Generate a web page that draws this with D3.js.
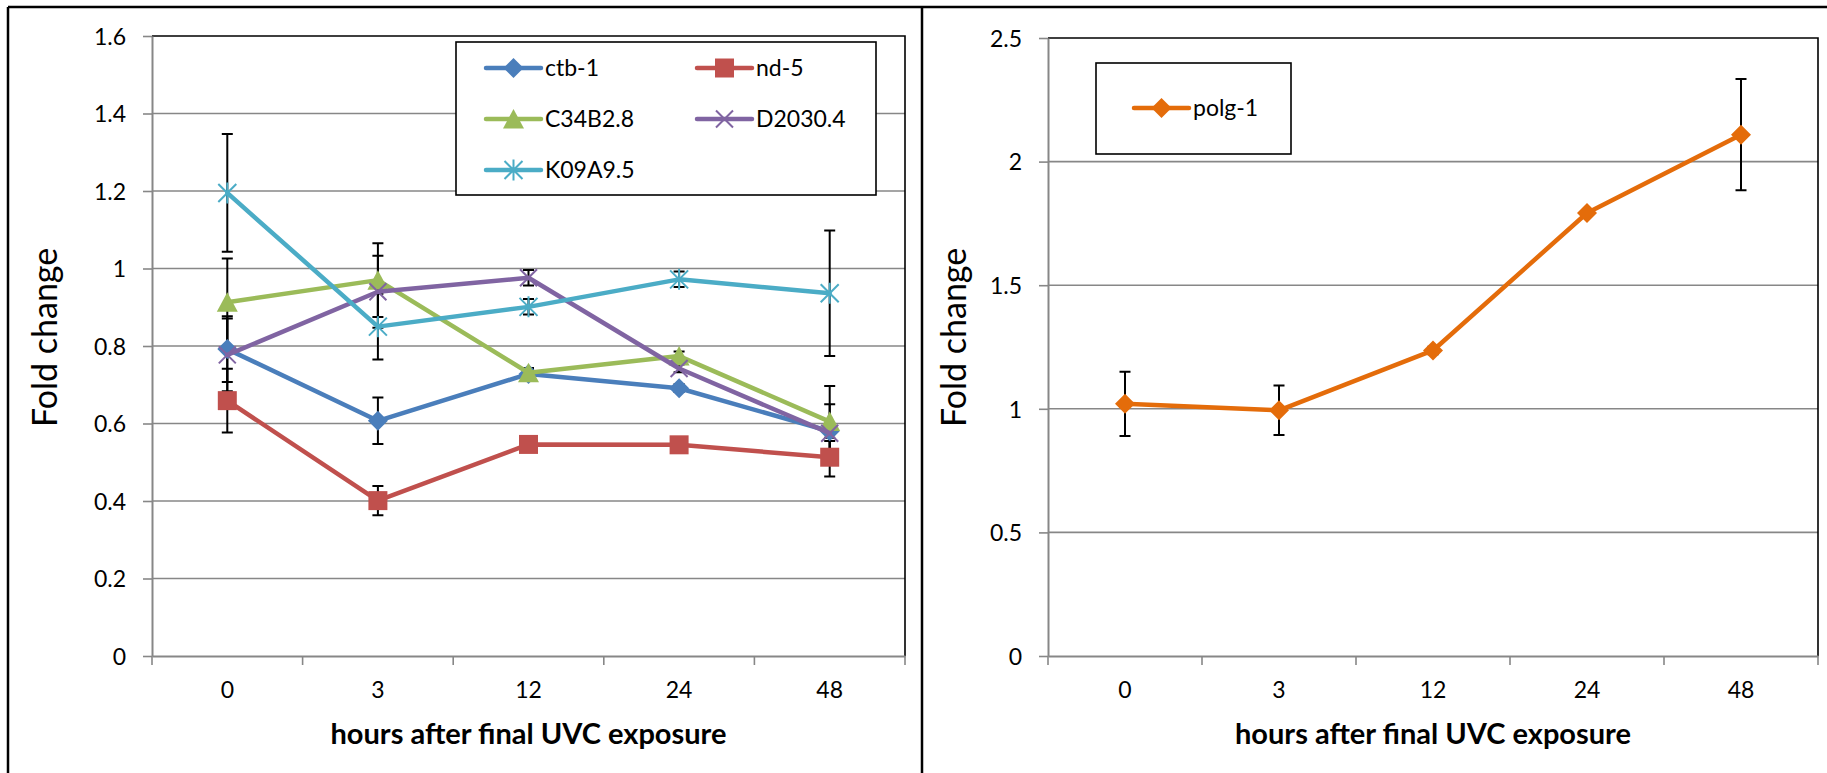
<!DOCTYPE html>
<html lang="en">
<head>
<meta charset="UTF-8">
<title>Fold change after final UVC exposure</title>
<script src="https://cdn.jsdelivr.net/npm/d3@7"></script>
<style>
  body { margin: 0; background: #fff; }
  svg { display: block; font-family: Lato, "Open Sans", sans-serif; }
</style>
</head>
<body>
<svg id="chart" width="1827" height="773"></svg>
<script>
// x categories: hours after final UVC exposure
const hours = ["0", "3", "12", "24", "48"];

// left panel, mean fold change and +/- error
const ctb1 = [0.792, 0.607, 0.728, 0.691, 0.580];
const ctb1Err = [0.085, 0.060, 0.010, 0.010, 0.070];
const nd5 = [0.659, 0.401, 0.546, 0.545, 0.513];
const nd5Err = [0.082, 0.038, 0.010, 0.010, 0.050];
const c34b28 = [0.913, 0.970, 0.731, 0.774, 0.605];
const c34b28Err = [0.113, 0.095, 0.012, 0.012, 0.092];
const d20304 = [0.777, 0.940, 0.976, 0.742, 0.575];
const d20304Err = [0.094, 0.093, 0.020, 0.010, 0.020];
const k09a95 = [1.195, 0.850, 0.901, 0.972, 0.936];
const k09a95Err = [0.152, 0.085, 0.020, 0.020, 0.162];

// right panel
const polg1 = [1.020, 0.994, 1.236, 1.792, 2.109];
const polg1Err = [0.130, 0.100, 0.015, 0.010, 0.225];

// y tick values
const leftTicks = [0, 0.2, 0.4, 0.6, 0.8, 1, 1.2, 1.4, 1.6];
const rightTicks = [0, 0.5, 1, 1.5, 2, 2.5];

const svg = d3.select("#chart");
const axisGrey = "#878787";

// outer frame of the two chart objects
const frame = svg.append("g").attr("stroke", "#000").attr("stroke-width", 2.5).attr("fill", "none");
frame.append("line").attr("x1", 8).attr("x2", 1827).attr("y1", 7).attr("y2", 7);
frame.append("line").attr("x1", 8).attr("x2", 8).attr("y1", 7).attr("y2", 773);
frame.append("line").attr("x1", 922).attr("x2", 922).attr("y1", 7).attr("y2", 773);

function markerPath(type) {
    switch (type) {
        case "diamond": return "M0,-10L10,0L0,10L-10,0Z";
        case "square": return "M-9.5,-9.5H9.5V9.5H-9.5Z";
        case "triangle": return "M0,-10L10.5,9.5H-10.5Z";
        case "x": return "M-8.5,-8.5L8.5,8.5M-8.5,8.5L8.5,-8.5";
        case "star": return "M-9,-9L9,9M-9,9L9,-9M0,-10.5V10.5";
    }
}
const stroked = t => t === "x" || t === "star";

function drawMarker(sel, type, color) {
    sel.attr("d", markerPath(type))
        .attr("fill", stroked(type) ? "none" : color)
        .attr("stroke", stroked(type) ? color : "none")
        .attr("stroke-width", 2);
}

function drawPanel(cfg) {
    const x = d3.scaleBand().domain(hours).range([cfg.left, cfg.right]);
    const y = d3.scaleLinear().domain([0, d3.max(cfg.ticks)]).range([656, cfg.top]);
    const cx = d => x(d) + x.bandwidth() / 2;
    const g = svg.append("g");

    // horizontal gridlines
    g.append("g").selectAll("line")
        .data(cfg.ticks.slice(1, -1))
        .join("line")
        .attr("x1", cfg.left).attr("x2", cfg.right)
        .attr("y1", d => y(d)).attr("y2", d => y(d))
        .attr("stroke", axisGrey).attr("stroke-width", 1.6);

    // plot area border (top and right)
    g.append("path")
        .attr("d", `M${cfg.left},${y(d3.max(cfg.ticks))}H${cfg.right}V${y(0)}`)
        .attr("fill", "none").attr("stroke", "#000").attr("stroke-width", 1.6);

    // y axis
    const yAxis = g.append("g")
        .attr("transform", `translate(${cfg.left},0)`)
        .call(d3.axisLeft(y).tickValues(cfg.ticks).tickSize(9).tickSizeOuter(0)
            .tickPadding(17).tickFormat(d3.format("~g")));
    yAxis.attr("font-family", null).attr("font-size", 23);
    yAxis.select(".domain").attr("stroke", axisGrey).attr("stroke-width", 2);
    yAxis.selectAll(".tick line").attr("stroke", axisGrey).attr("stroke-width", 1.6);
    yAxis.selectAll(".tick text").attr("fill", "#000").attr("dy", "0.36em");

    // x axis
    const xAxis = g.append("g")
        .attr("transform", `translate(0,${y(0)})`)
        .call(d3.axisBottom(x).tickSize(0).tickSizeOuter(0).tickPadding(26));
    xAxis.attr("font-family", null).attr("font-size", 23);
    xAxis.select(".domain").attr("stroke", axisGrey).attr("stroke-width", 2);
    xAxis.selectAll(".tick text").attr("fill", "#000");
    // tick marks between categories
    xAxis.selectAll(".bound")
        .data(hours.map(h => x(h)).concat([cfg.right]))
        .join("line")
        .attr("class", "bound")
        .attr("x1", d => d).attr("x2", d => d)
        .attr("y1", 0).attr("y2", 9)
        .attr("stroke", axisGrey).attr("stroke-width", 1.6);

    // axis titles
    g.append("text")
        .attr("x", (cfg.left + cfg.right) / 2).attr("y", 744)
        .attr("text-anchor", "middle")
        .attr("font-size", 29).attr("font-weight", "bold")
        .text("hours after final UVC exposure");
    g.append("text")
        .attr("transform", `translate(${cfg.titleX},427) rotate(-90)`)
        .attr("font-size", 34)
        .text("Fold change");

    // error bars
    const eb = g.append("g").attr("stroke", "#000").attr("stroke-width", 2);
    cfg.series.forEach(s => {
        const pts = hours.map((h, i) => ({ h, v: s.values[i], e: s.errors[i] }));
        eb.append("g").selectAll("path")
            .data(pts)
            .join("path")
            .attr("fill", "none")
            .attr("d", d => {
                const px = cx(d.h), hi = y(d.v + d.e), lo = y(d.v - d.e);
                return `M${px},${hi}V${lo}M${px - 5.5},${hi}H${px + 5.5}M${px - 5.5},${lo}H${px + 5.5}`;
            });
    });

    // lines and markers
    const line = d3.line().x(d => cx(d.h)).y(d => y(d.v));
    cfg.series.forEach(s => {
        const pts = hours.map((h, i) => ({ h, v: s.values[i] }));
        g.append("path")
            .datum(pts)
            .attr("d", line)
            .attr("fill", "none")
            .attr("stroke", s.color)
            .attr("stroke-width", 4.5)
            .attr("stroke-linejoin", "round")
            .attr("stroke-linecap", "round");
        g.append("g").selectAll("path")
            .data(pts)
            .join("path")
            .attr("transform", d => `translate(${cx(d.h)},${y(d.v)})`)
            .call(drawMarker, s.marker, s.color);
    });

    // legend
    const lg = g.append("g");
    lg.append("rect")
        .attr("x", cfg.legend.x).attr("y", cfg.legend.y)
        .attr("width", cfg.legend.w).attr("height", cfg.legend.h)
        .attr("fill", "#fff").attr("stroke", "#000").attr("stroke-width", 1.6);
    const items = lg.selectAll(".item")
        .data(cfg.series)
        .join("g")
        .attr("class", "item")
        .attr("transform", (d, i) => {
            const col = i % cfg.legend.cols, row = Math.floor(i / cfg.legend.cols);
            return `translate(${cfg.legend.x0 + col * cfg.legend.colStep},${cfg.legend.y0 + row * cfg.legend.rowStep})`;
        });
    items.append("line")
        .attr("x1", 0).attr("x2", 55)
        .attr("stroke", d => d.color).attr("stroke-width", 4.5)
        .attr("stroke-linecap", "round");
    items.append("path")
        .attr("transform", "translate(27.5,0)")
        .each(function (d) { drawMarker(d3.select(this), d.marker, d.color); });
    items.append("text")
        .attr("x", 59).attr("dy", "0.36em")
        .attr("font-size", 23)
        .text(d => d.name);
}

drawPanel({
    left: 152, right: 905, top: 36, titleX: 57,
    ticks: leftTicks,
    series: [
        { name: "ctb-1", values: ctb1, errors: ctb1Err, color: "#4a7ebb", marker: "diamond" },
        { name: "nd-5", values: nd5, errors: nd5Err, color: "#c0504d", marker: "square" },
        { name: "C34B2.8", values: c34b28, errors: c34b28Err, color: "#9bbb59", marker: "triangle" },
        { name: "D2030.4", values: d20304, errors: d20304Err, color: "#8064a2", marker: "x" },
        { name: "K09A9.5", values: k09a95, errors: k09a95Err, color: "#4bacc6", marker: "star" }
    ],
    legend: { x: 456, y: 42, w: 420, h: 153, x0: 486, y0: 68, cols: 2, colStep: 211, rowStep: 51 }
});

drawPanel({
    left: 1048, right: 1818, top: 38, titleX: 966,
    ticks: rightTicks,
    series: [
        { name: "polg-1", values: polg1, errors: polg1Err, color: "#e46c0a", marker: "diamond" }
    ],
    legend: { x: 1096, y: 63, w: 195, h: 91, x0: 1134, y0: 108, cols: 1, colStep: 0, rowStep: 0 }
});
</script>
</body>
</html>
